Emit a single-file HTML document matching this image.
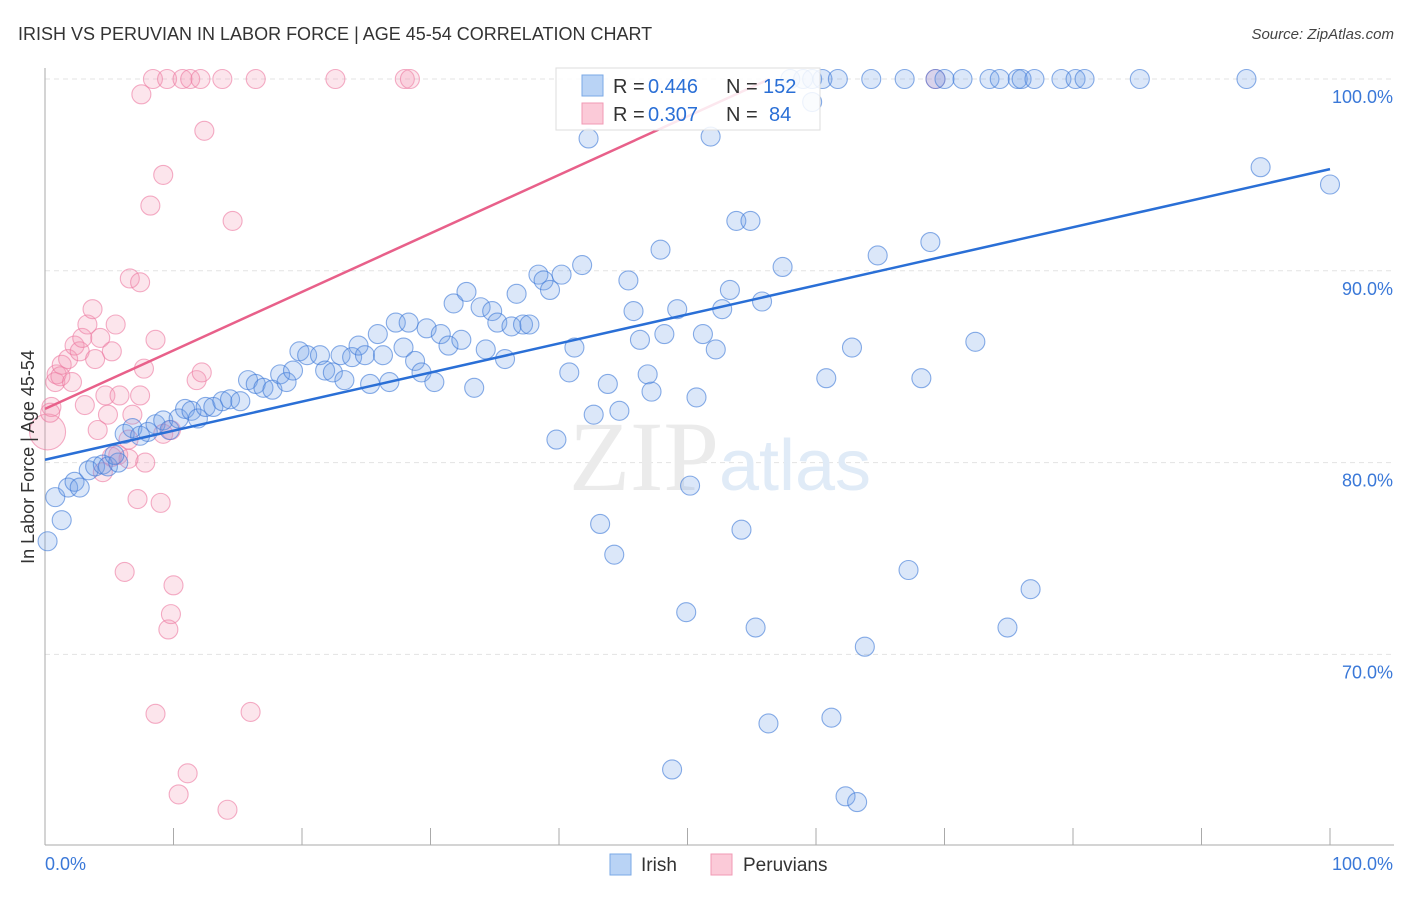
<!DOCTYPE html>
<html><head><meta charset="utf-8"><style>
body{margin:0;background:#fff;font-family:"Liberation Sans",sans-serif}
svg text{font-family:"Liberation Sans",sans-serif}
</style></head><body>
<svg width="1406" height="892" viewBox="0 0 1406 892">
<text x="18" y="40" font-size="18" fill="#333">IRISH VS PERUVIAN IN LABOR FORCE | AGE 45-54 CORRELATION CHART</text>
<text x="1394" y="39" font-size="15" fill="#444" font-style="italic" text-anchor="end">Source: ZipAtlas.com</text>
<g id="grid"></g>
<text x="720" y="490" font-size="100" fill="#ebebeb" text-anchor="middle" font-family="Liberation Serif"><tspan font-family="Liberation Serif">ZIP</tspan><tspan fill="#e0ebf7" font-family="Liberation Sans" font-size="72">atlas</tspan></text>
<g id="marks"></g>
<text transform="translate(34,457) rotate(-90)" font-size="18" fill="#333" text-anchor="middle">In Labor Force | Age 45-54</text>
<g>
<rect x="556" y="68" width="264" height="62" fill="#fff" fill-opacity="0.85" stroke="#ddd"/>
<rect x="582" y="75" width="21" height="21" fill="#b9d3f5" stroke="#7aa8e6"/>
<text x="613" y="93" font-size="20" fill="#333">R =</text>
<text x="648" y="93" font-size="20" fill="#2a6fd6">0.446</text>
<text x="726" y="93" font-size="20" fill="#333">N =</text>
<text x="763" y="93" font-size="20" fill="#2a6fd6">152</text>
<rect x="582" y="103" width="21" height="21" fill="#fbcad8" stroke="#f09ab4"/>
<text x="613" y="121" font-size="20" fill="#333">R =</text>
<text x="648" y="121" font-size="20" fill="#2a6fd6">0.307</text>
<text x="726" y="121" font-size="20" fill="#333">N =</text>
<text x="769" y="121" font-size="20" fill="#2a6fd6">84</text>
</g>
<g>
<rect x="610" y="854" width="21" height="21" fill="#b9d3f5" stroke="#7aa8e6"/>
<text x="641" y="871" font-size="19" fill="#333">Irish</text>
<rect x="711" y="854" width="21" height="21" fill="#fbcad8" stroke="#f09ab4"/>
<text x="743" y="871" font-size="19" fill="#333">Peruvians</text>
</g>
</svg>
<script>
const xTickLabels=["0.0%","100.0%"];
const yTicks=[70,80,90,100];
const yTickLabels=["70.0%","80.0%","90.0%","100.0%"];
const irishX=[0.2,1.3,0.8,1.8,2.3,2.7,3.4,3.9,4.5,4.9,5.7,5.4,6.2,6.8,7.4,8.0,8.6,9.2,9.7,10.4,10.9,11.4,11.9,12.5,13.1,13.8,14.4,15.2,15.8,16.4,17.0,17.7,18.3,18.8,19.3,19.8,20.4,21.4,21.8,22.4,23.0,23.3,23.9,24.4,24.9,25.3,25.9,26.3,26.8,27.3,27.9,28.3,28.8,29.3,29.7,30.3,30.8,31.4,31.8,32.4,32.8,33.4,33.9,34.3,34.8,35.2,35.8,36.3,36.7,37.2,37.7,38.4,38.8,39.3,39.8,40.2,40.8,41.2,41.8,42.3,42.7,43.2,43.8,44.3,44.7,45.4,45.8,46.3,46.9,47.2,47.9,48.2,48.8,49.2,49.9,50.2,50.7,51.2,51.8,52.2,52.7,53.3,53.8,54.2,54.9,55.3,55.8,56.3,57.4,59.7,60.8,61.2,62.3,62.8,63.2,63.8,64.8,67.2,68.2,68.9,72.4,74.9,76.7,94.6,100,58.0,59.0,59.7,60.5,61.7,64.3,66.9,69.3,70.0,71.4,73.5,74.3,75.7,76.0,77.0,79.1,80.2,80.9,85.2,93.5];
const irishY=[75.9,77.0,78.2,78.7,79.0,78.7,79.6,79.8,79.9,79.8,80.0,80.4,81.5,81.8,81.4,81.6,82.0,82.2,81.7,82.3,82.8,82.7,82.3,82.9,82.9,83.2,83.3,83.2,84.3,84.1,83.9,83.8,84.6,84.2,84.8,85.8,85.6,85.6,84.8,84.7,85.6,84.3,85.5,86.1,85.6,84.1,86.7,85.6,84.2,87.3,86.0,87.3,85.3,84.7,87.0,84.2,86.7,86.1,88.3,86.4,88.9,83.9,88.1,85.9,87.9,87.3,85.4,87.1,88.8,87.2,87.2,89.8,89.5,89.0,81.2,89.8,84.7,86.0,90.3,96.9,82.5,76.8,84.1,75.2,82.7,89.5,87.9,86.4,84.6,83.7,91.1,86.7,64.0,88.0,72.2,78.8,83.4,86.7,97.0,85.9,88.0,89.0,92.6,76.5,92.6,71.4,88.4,66.4,90.2,98.8,84.4,66.7,62.6,86.0,62.3,70.4,90.8,74.4,84.4,91.5,86.3,71.4,73.4,95.4,94.5,100,100,100,100,100,100,100,100,100,100,100,100,100,100,100,100,100,100,100,100];
const peruX=[0.2,0.5,0.4,0.8,0.9,1.2,1.3,1.8,2.1,2.3,2.7,2.9,3.3,3.7,3.9,4.1,4.3,4.7,4.9,5.2,5.5,5.7,6.2,6.5,6.6,6.8,7.2,7.4,7.5,7.7,8.2,8.4,8.6,8.6,9.0,9.2,9.5,9.6,9.8,10.0,10.4,10.7,11.1,11.3,11.8,12.1,12.2,12.4,13.8,14.2,14.6,16.0,16.4,22.6,28.0,28.4,69.3,7.8,5.2,4.5,6.5,7.4,3.1,5.8,9.2,9.8];
const peruY=[81.6,82.9,82.6,84.2,84.6,84.5,85.1,85.4,84.2,86.1,85.8,86.5,87.2,88.0,85.4,81.7,86.5,83.5,82.5,85.8,87.2,80.4,74.3,81.2,89.6,82.5,78.1,89.4,99.2,84.9,93.4,100,86.4,66.9,77.9,95.0,100,71.3,72.1,73.6,62.7,100,63.8,100,84.3,100,84.7,97.3,100,61.9,92.6,67.0,100,100,100,100,100,80.0,80.3,79.5,80.2,83.5,83.0,83.5,81.5,81.7];
const irishTrend=[80.15,95.3];
const peruTrend=[82.8,113.3];
const X0=45,X1=1330,Y100=79,PX10=191.8;
const sx=v=>X0+(X1-X0)*v/100;
const sy=v=>Y100+(100-v)*PX10/10;
const NS="http://www.w3.org/2000/svg";
function mk(t,a,p){const e=document.createElementNS(NS,t);for(const k in a)e.setAttribute(k,a[k]);p.appendChild(e);return e;}
const grid=document.getElementById('grid'),marks=document.getElementById('marks');
yTicks.forEach((t,i)=>{
 const l=mk('line',{x1:X0,x2:1394,y1:sy(t),y2:sy(t),stroke:'#e3e3e3','stroke-dasharray':'5,4'},grid);
 
 
 const tx=mk('text',{x:1393,y:sy(t)+24,'font-size':18,fill:'#3a78d8','text-anchor':'end'},grid);
 tx.textContent=yTickLabels[i];
 
 
});
const ax=mk('line',{x1:X0,x2:X0,y1:68,y2:845,stroke:'#aaa'},grid);


const bx=mk('line',{x1:X0,x2:1394,y1:845,y2:845,stroke:'#aaa'},grid);


for(let k=0;k<=10;k++){const t=mk('line',{x1:sx(k*10),x2:sx(k*10),y1:828,y2:845,stroke:'#aaa'},grid);
 
 }
[[0,'start',45],[100,'end',1393]].forEach((d,i)=>{const t=mk('text',{x:d[2],y:870,'font-size':18,fill:'#3a78d8','text-anchor':d[1]},grid);t.textContent=xTickLabels[i];
 
 });
peruX.forEach((x,i)=>{const c=mk('circle',{cx:sx(x),cy:sy(peruY[i]),r:i==0?18:9.5,fill:'rgba(245,150,180,0.25)',stroke:'rgba(236,120,160,0.6)','stroke-width':1.1},marks);
 
 });
irishX.forEach((x,i)=>{const c=mk('circle',{cx:sx(x),cy:sy(irishY[i]),r:9.5,fill:'rgba(110,160,230,0.25)',stroke:'rgba(60,120,215,0.6)','stroke-width':1.1},marks);
 
 });
const l1=mk('line',{x1:sx(0),y1:sy(irishTrend[0]),x2:sx(100),y2:sy(irishTrend[1]),stroke:'#2a6fd6','stroke-width':2.5},marks);


const xe=100*(100-peruTrend[0])/(peruTrend[1]-peruTrend[0]);
const l2=mk('line',{x1:sx(0),y1:sy(peruTrend[0]),x2:sx(xe),y2:sy(100),stroke:'#e8608a','stroke-width':2.5},marks);


</script>
</body></html>
